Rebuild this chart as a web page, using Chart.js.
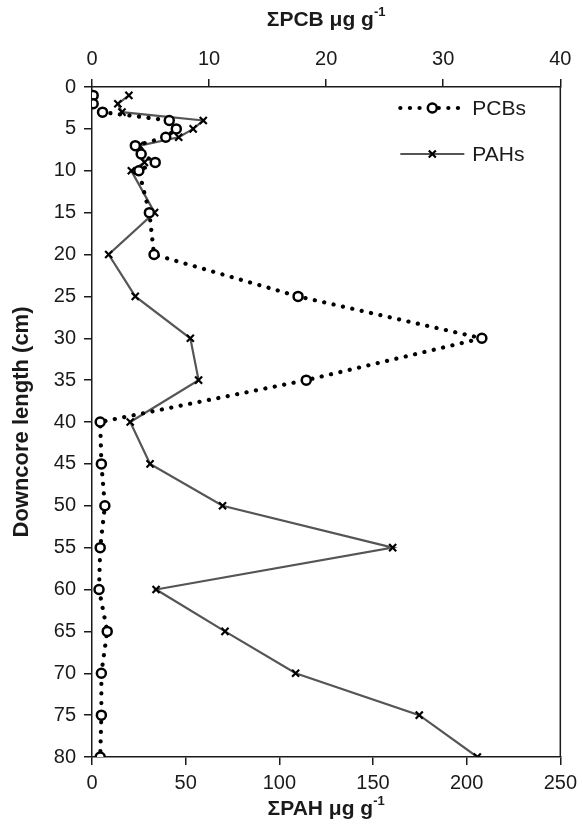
<!DOCTYPE html>
<html>
<head>
<meta charset="utf-8">
<script src="https://cdn.jsdelivr.net/npm/chart.js@4.4.1/dist/chart.umd.min.js"></script>
<style>
  html, body { margin: 0; padding: 0; background: #fff; }
  #wrap { width: 583px; height: 832px; }
</style>
</head>
<body>
<div id="wrap"><canvas id="coreChart"></canvas></div>
<script>
// sample depths (cm) and concentrations
const depths = [1, 2, 3, 4, 5, 6, 7, 8, 9, 10, 15, 20, 25, 30, 35, 40, 45, 50, 55, 60, 65, 70, 75, 80];
const pcbValues = [0.1, 0.1, 0.9, 6.6, 7.2, 6.3, 3.7, 4.2, 5.4, 4.0, 4.9, 5.3, 17.6, 33.3, 18.3, 0.7, 0.8, 1.1, 0.7, 0.6, 1.3, 0.8, 0.8, 0.7];
const pahValues = [19.7, 13.8, 16.0, 59.4, 54.0, 46.3, 25.4, 26.3, 28.0, 21.0, 33.4, 8.9, 23.1, 52.5, 56.9, 20.4, 31.0, 69.7, 160.5, 34.2, 71.0, 108.7, 174.7, 205.7];
const depthTicks = [0, 80, 5];
const pahTicks = [0, 250, 50];
const pcbTicks = [0, 40, 10];

const FONT = '"Liberation Sans", Arial, Helvetica, sans-serif';
const INK = '#1a1a1a';

function toPoints(vals) {
  return vals.map((v, i) => ({ x: v, y: depths[i] }));
}

// bold title with a superscript "-1"
function supTitle(ctx, base, sup, cx, cy) {
  ctx.font = 'bold 21px ' + FONT;
  const w1 = ctx.measureText(base).width;
  ctx.font = 'bold 13px ' + FONT;
  const w2 = ctx.measureText(sup).width;
  const x0 = cx - (w1 + w2) / 2;
  ctx.textAlign = 'left';
  ctx.textBaseline = 'middle';
  ctx.font = 'bold 21px ' + FONT;
  ctx.fillText(base, x0, cy);
  ctx.font = 'bold 13px ' + FONT;
  ctx.fillText(sup, x0 + w1, cy - 8);
}

const framePlugin = {
  id: 'framePlugin',
  afterDraw(chart) {
    const { ctx, chartArea: a } = chart;
    ctx.save();
    // right border closes the box
    ctx.strokeStyle = INK;
    ctx.lineWidth = 1.5;
    ctx.beginPath();
    ctx.moveTo(a.right, a.top);
    ctx.lineTo(a.right, a.bottom);
    ctx.stroke();

    ctx.fillStyle = INK;
    const cx = (a.left + a.right) / 2;
    supTitle(ctx, '\u03a3PCB \u03bcg g', '-1', cx, 20);
    supTitle(ctx, '\u03a3PAH \u03bcg g', '-1', cx, 809);

    // y title
    ctx.save();
    ctx.translate(22, (a.top + a.bottom) / 2);
    ctx.rotate(-Math.PI / 2);
    ctx.textAlign = 'center';
    ctx.textBaseline = 'middle';
    ctx.font = 'bold 22px ' + FONT;
    ctx.fillText('Downcore length (cm)', 0, 0);
    ctx.restore();

    // legend
    const items = [
      { label: 'PCBs', ds: chart.data.datasets[0], y: 108 },
      { label: 'PAHs', ds: chart.data.datasets[1], y: 154 }
    ];
    const x1 = a.right - 160, x2 = a.right - 96;
    items.forEach(it => {
      ctx.strokeStyle = it.ds.borderColor;
      ctx.lineWidth = it.ds.borderWidth;
      ctx.setLineDash(it.ds.borderDash || []);
      ctx.lineCap = it.ds.borderCapStyle || 'butt';
      ctx.beginPath();
      ctx.moveTo(x1, it.y);
      ctx.lineTo(x2, it.y);
      ctx.stroke();
      ctx.setLineDash([]);
      ctx.lineCap = 'butt';
      ctx.strokeStyle = it.ds.pointBorderColor;
      ctx.fillStyle = it.ds.pointBackgroundColor;
      ctx.lineWidth = it.ds.pointBorderWidth;
      Chart.helpers.drawPoint(ctx, {
        pointStyle: it.ds.pointStyle,
        radius: it.ds.pointRadius,
        borderWidth: it.ds.pointBorderWidth
      }, (x1 + x2) / 2, it.y);
      ctx.fillStyle = INK;
      ctx.font = '21px ' + FONT;
      ctx.textAlign = 'left';
      ctx.textBaseline = 'middle';
      ctx.fillText(it.label, x2 + 8, it.y + 1);
    });
    ctx.restore();
  }
};

const tickFont = { family: FONT, size: 20 };
const axisGrid = { drawOnChartArea: false, drawTicks: true, tickLength: 8, color: INK, lineWidth: 1.5 };
const axisBorder = { color: INK, width: 1.5 };

new Chart(document.getElementById('coreChart'), {
  type: 'scatter',
  data: {
    datasets: [
      {
        label: 'PCBs',
        data: toPoints(pcbValues),
        xAxisID: 'x2',
        showLine: true,
        borderColor: '#000',
        borderWidth: 4.2,
        borderDash: [0.1, 9.5],
        borderCapStyle: 'round',
        pointStyle: 'circle',
        pointRadius: 4.5,
        pointBorderWidth: 2.5,
        pointBorderColor: '#000',
        pointBackgroundColor: '#fff',
        order: 1
      },
      {
        label: 'PAHs',
        data: toPoints(pahValues),
        xAxisID: 'x',
        showLine: true,
        borderColor: '#555',
        borderWidth: 2.2,
        pointStyle: 'crossRot',
        pointRadius: 5,
        pointBorderWidth: 2.2,
        pointBorderColor: '#000',
        pointBackgroundColor: '#000',
        order: 2
      }
    ]
  },
  options: {
    responsive: true,
    maintainAspectRatio: false,
    animation: false,
    layout: { padding: { left: 0, right: 21, top: 0, bottom: 0 } },
    plugins: {
      legend: { display: false },
      tooltip: { enabled: false }
    },
    scales: {
      y: {
        type: 'linear',
        reverse: true,
        min: depthTicks[0],
        max: depthTicks[1],
        afterFit: s => { s.width = 92; },
        ticks: { stepSize: depthTicks[2], color: INK, font: tickFont, padding: 8 },
        grid: axisGrid,
        border: axisBorder
      },
      x: {
        type: 'linear',
        position: 'bottom',
        min: pahTicks[0],
        max: pahTicks[1],
        afterFit: s => { s.height = 75; },
        ticks: { stepSize: pahTicks[2], color: INK, font: tickFont, padding: 6 },
        grid: axisGrid,
        border: axisBorder
      },
      x2: {
        type: 'linear',
        position: 'top',
        min: pcbTicks[0],
        max: pcbTicks[1],
        afterFit: s => { s.height = 87; },
        ticks: { stepSize: pcbTicks[2], color: INK, font: tickFont, padding: 8 },
        grid: axisGrid,
        border: axisBorder
      }
    }
  },
  plugins: [framePlugin]
});
</script>
</body>
</html>
